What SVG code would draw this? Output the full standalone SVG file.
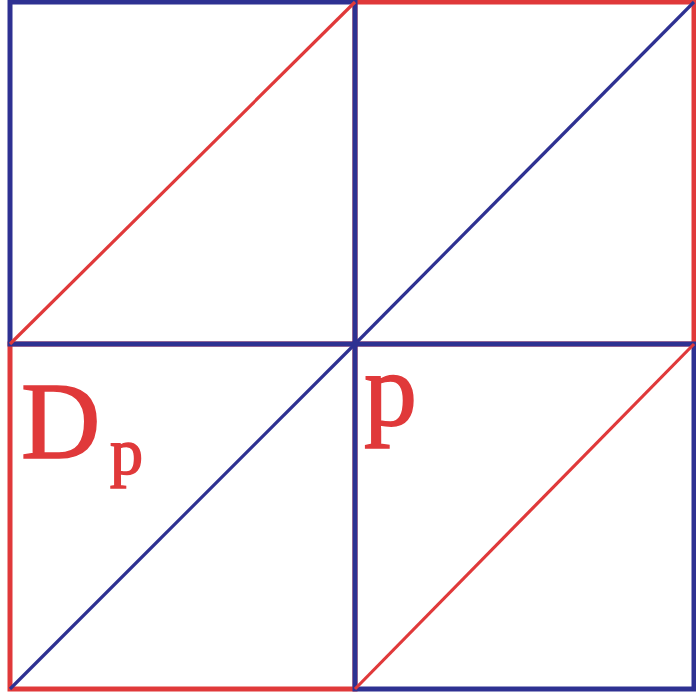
<svg xmlns="http://www.w3.org/2000/svg" width="696" height="696" viewBox="0 0 696 696">
<style>
.bR{fill:none;stroke:#e0393a;stroke-width:5}
.bB{fill:none;stroke:#2e3192;stroke-width:5}
.dR{stroke:#e0393a;stroke-width:3.2}
.dB{stroke:#2e3192;stroke-width:3.2}
.lbl{fill:#e0393a;stroke:#e0393a;stroke-width:1.6;font-family:"Liberation Serif","Times New Roman",serif}
</style>
<rect width="696" height="696" fill="#ffffff"/>
<g id="sq-top-right">
<rect class="bR" x="355" y="2" width="339" height="342"/>
<line class="dB" x1="355" y1="344" x2="694" y2="2"/>
</g>
<g id="sq-bottom-left">
<rect class="bR" x="10" y="344" width="345" height="345"/>
<line class="dB" x1="10" y1="689" x2="355" y2="344"/>
</g>
<g id="sq-top-left">
<rect class="bB" x="10" y="2" width="345" height="342"/>
<line class="dR" x1="10" y1="344" x2="355" y2="2"/>
</g>
<g id="sq-bottom-right">
<rect class="bB" x="355" y="344" width="339" height="345"/>
<line class="dR" x1="355" y1="689" x2="694" y2="344"/>
</g>
<g id="labels">
<text class="lbl" x="21" y="458" font-size="110">D</text>
<text class="lbl" x="110" y="474" font-size="66">p</text>
<text class="lbl" x="364" y="425" font-size="106">p</text>
</g>
</svg>
